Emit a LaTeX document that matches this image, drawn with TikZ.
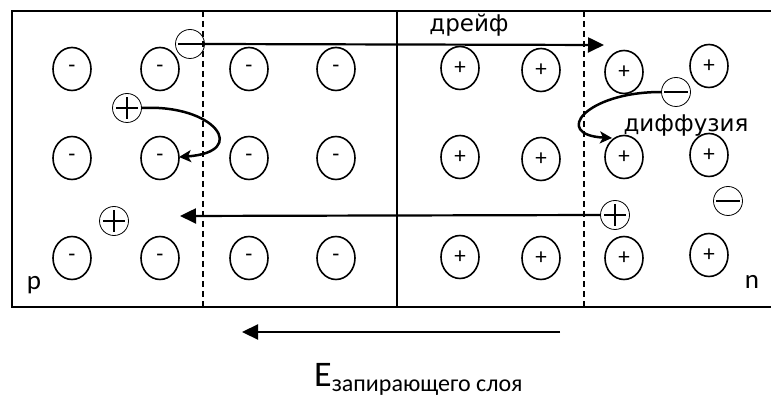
\documentclass[tikz,border=0pt]{standalone}
\usepackage{fontspec}
\newfontfamily\carl{Carlito}
\newfontfamily\dvs{DejaVu Sans}
\usetikzlibrary{arrows.meta,shapes.geometric}
\tikzset{
  ion/.style={draw, ellipse, line width=1.6pt, minimum width=38pt, minimum height=43pt, inner sep=0pt, font=\carl\fontsize{23}{23}\selectfont},
  carrier/.style={draw, circle, line width=0.8pt, minimum size=29pt, inner sep=0pt},
  border/.style={line width=2pt},
  boundary/.style={line width=1.5pt, dash pattern=on 6pt off 4pt},
  junction/.style={line width=1.5pt},
  straightarrow/.style={line width=2.2pt, -{Triangle[length=16pt,width=15pt]}},
  curvedarrow/.style={line width=2.5pt, -{Stealth[length=12pt,width=12pt,inset=3pt]}},
  labeltext/.style={font=\dvs\fontsize{23}{23}\selectfont, inner sep=0pt, anchor=base},
  regiontext/.style={font=\carl\fontsize{27}{27}\selectfont, inner sep=0pt, anchor=base}
}
\newcommand{\minuscarrier}[2]{%
  \node[carrier] (#1) at #2 {};
  \draw[line width=2pt] ([xshift=-12pt]#1.center) -- ([xshift=12pt]#1.center);}
\newcommand{\pluscarrier}[2]{%
  \node[carrier] (#1) at #2 {};
  \draw[line width=1.6pt] ([xshift=-11pt]#1.center) -- ([xshift=11pt]#1.center);
  \draw[line width=1.6pt] ([yshift=-11pt]#1.center) -- ([yshift=11pt]#1.center);}
\begin{document}
\begin{tikzpicture}[x=1pt, y=-1pt]
\useasboundingbox (0,0) rectangle (771,398);
% box
\draw[border] (771,11) -- (12,11) -- (12,307) -- (771,307);
\draw[boundary] (203,11) -- (203,307);
\draw[boundary] (584,11) -- (584,307);
\draw[junction] (397,11) -- (397,307);
% p-side ions
\foreach \x [count=\i] in {72,160,249,336}{
  \node[ion] (a1\i) at (\x,69) {-};
  \node[ion] (a2\i) at (\x,158) {-};
  \node[ion] (a3\i) at (\x,258) {-};
}
% n-side ions
\node[ion] (b11) at (460,68) {+};
\node[ion] (b12) at (541,70) {+};
\node[ion] (b13) at (624,72) {+};
\node[ion] (b14) at (709,66) {+};
\node[ion] (b21) at (460,157) {+};
\node[ion] (b22) at (541,159) {+};
\node[ion] (b23) at (624,157) {+};
\node[ion] (b24) at (709,155) {+};
\node[ion] (b31) at (460,257) {+};
\node[ion] (b32) at (541,258) {+};
\node[ion] (b33) at (624,258) {+};
\node[ion] (b34) at (709,255) {+};
% carriers
\minuscarrier{e1}{(190,44)}
\pluscarrier{h1}{(127,108)}
\minuscarrier{e2}{(676,92)}
\pluscarrier{h2}{(615,215)}
\pluscarrier{h3}{(114,221)}
\minuscarrier{e3}{(728,201)}
% arrows
\coordinate (d1) at (604,45);
\draw[straightarrow] (e1.east) -- (d1);
\coordinate (d2) at (180,216);
\draw[straightarrow] (h2.west) -- (d2);
\coordinate (f1) at (179,157);
\draw[curvedarrow] (h1.east) .. controls (215,104) and (250,152) .. (f1);
\coordinate (f2) at (612,138);
\draw[curvedarrow] (e2.west) .. controls (585,92) and (552,135) .. (f2);
% field arrow
\coordinate (E1) at (560,332);
\coordinate (E2) at (242,332);
\draw[straightarrow] (E1) -- (E2);
% labels
\node[labeltext] (drift) at (469,32) {дрейф};
\node[labeltext] (diff) at (686,132) {диффузия};
\node[regiontext] (p) at (34,289) {p};
\node[regiontext] (n) at (752,288) {n};
\node[inner sep=0pt, anchor=base west] (field) at (314,386) {\carl\fontsize{36}{36}\selectfont E\fontsize{24}{24}\selectfont\raisebox{-5pt}{запирающего слоя}};
\end{tikzpicture}
\end{document}
